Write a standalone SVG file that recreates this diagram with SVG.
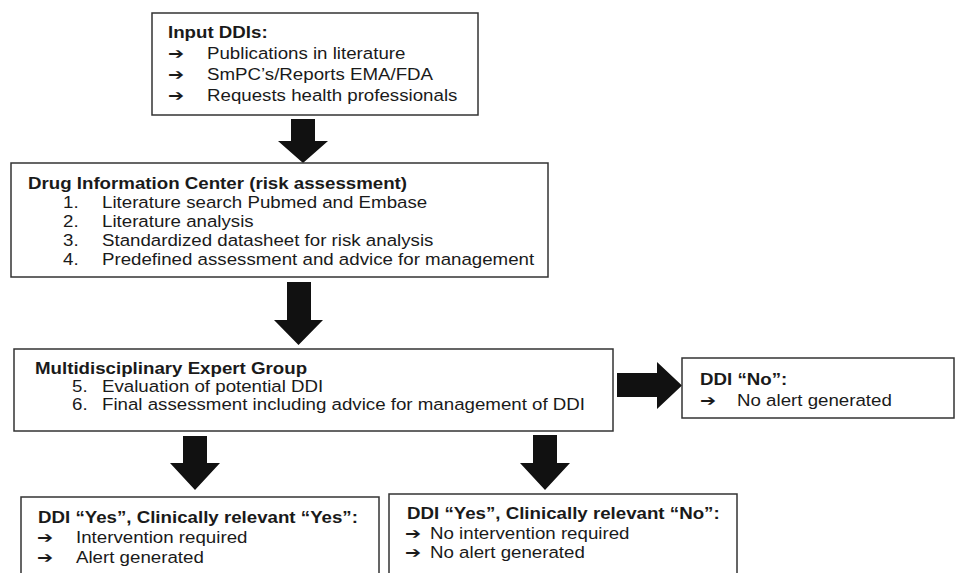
<svg xmlns="http://www.w3.org/2000/svg" width="957" height="573" viewBox="0 0 957 573">
<style>
.box{fill:#fff;stroke:#333;stroke-width:1.5}
.t{font-family:"Liberation Sans",Arial,sans-serif;font-size:17px;fill:#1a1a1a}
.b{font-weight:bold}
.ar{font-family:"DejaVu Sans",sans-serif;font-size:16px;fill:#1a1a1a;font-weight:bold}
.big{fill:#111}
</style>
<rect width="957" height="573" fill="#fff"/>
<g id="connectors">
<polygon class="big" points="291,119 315,119 315,141 328,141 303,163 278,141 291,141"/>
<polygon class="big" points="287,282 311,282 311,320 323,320 298.5,345 274,320 287,320"/>
<polygon class="big" points="617,373 657,373 657,362 682,385.5 657,409 657,397 617,397"/>
<polygon class="big" points="183,436 207,436 207,463 220,463 195,490 170,463 183,463"/>
<polygon class="big" points="533,435 557,435 557,463 570,463 545,490 520,463 533,463"/>
</g>
<g id="input">
<rect class="box" x="152" y="13" width="326" height="102"/>
<text class="t b" transform="translate(168,38) scale(1.1,1)">Input DDIs:</text>
<text class="ar" transform="translate(168,59) scale(1.2,1)">➔</text>
<text class="t" transform="translate(207,59) scale(1.1,1)">Publications in literature</text>
<text class="ar" transform="translate(168,80) scale(1.2,1)">➔</text>
<text class="t" transform="translate(207,80) scale(1.1,1)">SmPC’s/Reports EMA/FDA</text>
<text class="ar" transform="translate(168,101) scale(1.2,1)">➔</text>
<text class="t" transform="translate(207,101) scale(1.1,1)">Requests health professionals</text>
</g>
<g id="dic">
<rect class="box" x="11" y="163" width="537" height="114"/>
<text class="t b" transform="translate(28,189) scale(1.1,1)">Drug Information Center (risk assessment)</text>
<text class="t" transform="translate(63,208) scale(1.1,1)">1.</text>
<text class="t" transform="translate(102,208) scale(1.1,1)">Literature search Pubmed and Embase</text>
<text class="t" transform="translate(63,227) scale(1.1,1)">2.</text>
<text class="t" transform="translate(102,227) scale(1.1,1)">Literature analysis</text>
<text class="t" transform="translate(63,246) scale(1.1,1)">3.</text>
<text class="t" transform="translate(102,246) scale(1.1,1)">Standardized datasheet for risk analysis</text>
<text class="t" transform="translate(63,265) scale(1.1,1)">4.</text>
<text class="t" transform="translate(102,265) scale(1.1,1)">Predefined assessment and advice for management</text>
</g>
<g id="expert">
<rect class="box" x="14" y="349" width="599" height="82"/>
<text class="t b" transform="translate(35,374) scale(1.1,1)">Multidisciplinary Expert Group</text>
<text class="t" transform="translate(72,392) scale(1.1,1)">5.</text>
<text class="t" transform="translate(102,392) scale(1.1,1)">Evaluation of potential DDI</text>
<text class="t" transform="translate(72,410) scale(1.1,1)">6.</text>
<text class="t" transform="translate(102,410) scale(1.1,1)">Final assessment including advice for management of DDI</text>
</g>
<g id="ddi-no">
<rect class="box" x="682" y="358" width="272" height="60"/>
<text class="t b" transform="translate(700,385) scale(1.1,1)">DDI “No”:</text>
<text class="ar" transform="translate(700,406) scale(1.2,1)">➔</text>
<text class="t" transform="translate(737,406) scale(1.1,1)">No alert generated</text>
</g>
<g id="yes-yes">
<rect class="box" x="21" y="497" width="358" height="90"/>
<text class="t b" transform="translate(38,523) scale(1.1,1)">DDI “Yes”, Clinically relevant “Yes”:</text>
<text class="ar" transform="translate(37,543) scale(1.2,1)">➔</text>
<text class="t" transform="translate(76,543) scale(1.1,1)">Intervention required</text>
<text class="ar" transform="translate(37,563) scale(1.2,1)">➔</text>
<text class="t" transform="translate(76,563) scale(1.1,1)">Alert generated</text>
</g>
<g id="yes-no">
<rect class="box" x="389" y="494" width="348" height="90"/>
<text class="t b" transform="translate(407,519) scale(1.1,1)">DDI “Yes”, Clinically relevant “No”:</text>
<text class="ar" transform="translate(405,539) scale(1.2,1)">➔</text>
<text class="t" transform="translate(430,539) scale(1.1,1)">No intervention required</text>
<text class="ar" transform="translate(405,558) scale(1.2,1)">➔</text>
<text class="t" transform="translate(430,558) scale(1.1,1)">No alert generated</text>
</g>
</svg>
